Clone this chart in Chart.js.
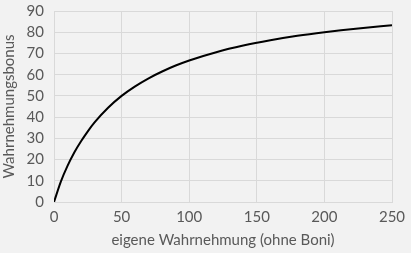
<!DOCTYPE html>
<html>
<head>
<meta charset="utf-8">
<script src="https://cdn.jsdelivr.net/npm/chart.js@4/dist/chart.umd.min.js"></script>
<style>
  html, body { margin: 0; padding: 0; background: #f2f2f2; }
  #wrap { width: 411px; height: 253px; }
</style>
</head>
<body>
<div id="wrap"><canvas id="chart"></canvas></div>
<script>
// values
var ownPerception = [0, 5, 10, 15, 20, 25, 30, 40, 50, 60, 70, 80, 90, 100, 120, 140, 160, 180, 200, 225, 250];
var perceptionBonus = [0, 9.5, 17, 23.3, 28.6, 33.3, 37.5, 44.4, 50, 54.5, 58.3, 61.5, 64.3, 66.7, 70.6, 73.7, 76.2, 78.3, 80, 81.8, 83.3];

var xTitle = 'eigene Wahrnehmung (ohne Boni)';
var yTitle = 'Wahrnehmungsbonus';

var points = ownPerception.map(function (x, i) { return { x: x, y: perceptionBonus[i] }; });

var tickFont = { family: 'Lato', size: 15 };
var gridColor = '#d9d9d9';
var textColor = '#595959';

var ctx = document.getElementById('chart').getContext('2d');
var myChart = new Chart(ctx, {
    type: 'scatter',
    data: {
        datasets: [{
            label: yTitle,
            data: points,
            showLine: true,
            borderColor: '#000000',
            borderWidth: 2,
            pointRadius: 0,
            cubicInterpolationMode: 'monotone',
            fill: false
        }]
    },
    options: {
        responsive: true,
        maintainAspectRatio: false,
        animation: false,
        layout: { padding: { top: 11, right: 19, left: 0, bottom: 0 } },
        plugins: {
            legend: { display: false },
            tooltip: { enabled: false }
        },
        scales: {
            x: {
                type: 'linear',
                min: 0,
                max: 250,
                afterFit: function (s) { s.height = 51; s.paddingLeft = 0; s.paddingRight = 0; },
                ticks: { stepSize: 50, color: textColor, font: tickFont, padding: 6, maxRotation: 0, autoSkip: false },
                grid: { color: gridColor, drawTicks: false },
                border: { color: gridColor },
                title: { display: true, text: xTitle, color: textColor, font: tickFont, padding: { top: 0, bottom: 4 } }
            },
            y: {
                min: 0,
                max: 90,
                afterFit: function (s) { s.width = 54; s.paddingTop = 0; s.paddingBottom = 0; },
                ticks: { stepSize: 10, color: textColor, font: tickFont, padding: 10, autoSkip: false },
                grid: { color: gridColor, drawTicks: false },
                border: { color: gridColor },
                title: { display: true, text: yTitle, color: textColor, font: tickFont, padding: { top: 0, bottom: 0 } }
            }
        }
    }
});
</script>
</body>
</html>
